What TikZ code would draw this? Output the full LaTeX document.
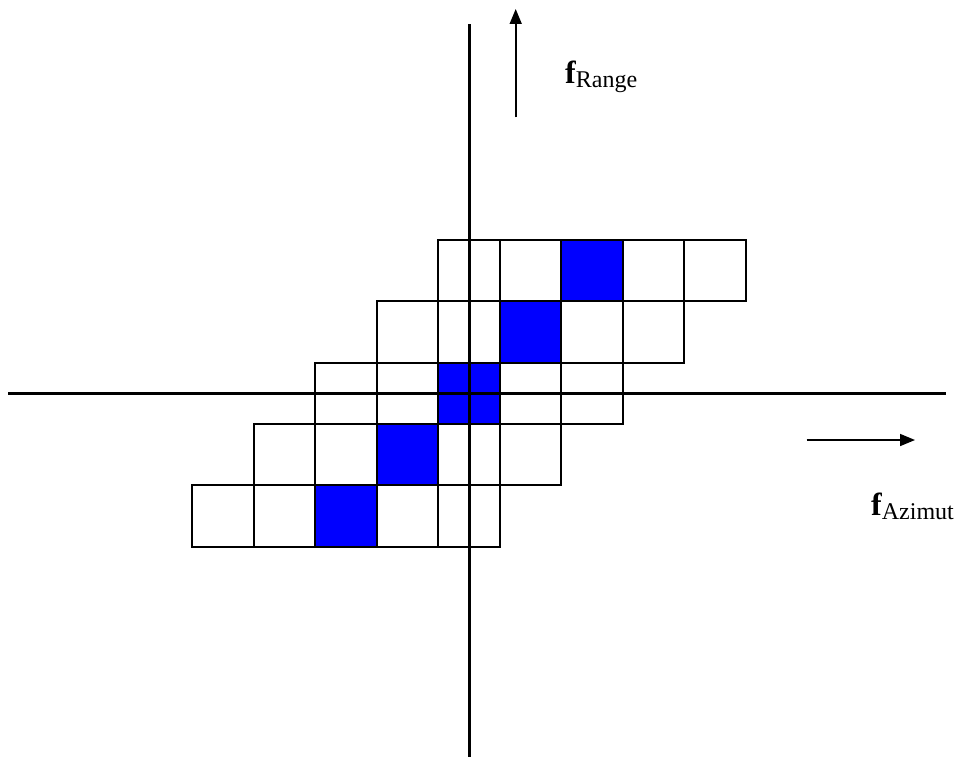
\documentclass[tikz,border=0pt]{standalone}
\usepackage{fontspec}
\setmainfont{Liberation Serif}
\usetikzlibrary{arrows.meta}
\definecolor{cellblue}{RGB}{0,0,255}
\tikzset{
  cellbox/.style={draw=black, line width=2pt},
  bluecell/.style={fill=cellblue, draw=black, line width=2pt},
  axisline/.style={draw=black, line width=2.4pt},
  dirarrow/.style={draw=black, line width=1.6pt, -{Triangle[length=15pt,width=12pt]}},
  lbl/.style={inner sep=0pt, anchor=base west}
}
\begin{document}
\begin{tikzpicture}[x=1pt,y=-1pt]
\useasboundingbox (0,0) rectangle (960,757);
% grid of cells: row r (0 = top), start column 4-r, five cells each
\foreach \r in {0,...,4}{
  \foreach \c in {0,...,4}{
    \pgfmathsetmacro{\xa}{192.3+61.5*(4-\r+\c)}
    \pgfmathsetmacro{\ya}{240+61.35*\r}
    \ifnum\c=2
      \path[bluecell] (\xa,\ya) rectangle ++(61.5,61.35);
    \else
      \path[cellbox] (\xa,\ya) rectangle ++(61.5,61.35);
    \fi
  }
}
% axes
\coordinate (vtop) at (469.3,24.3);
\coordinate (vbot) at (469.3,757);
\coordinate (hleft) at (8.3,393.3);
\coordinate (hright) at (945.7,393.3);
\draw[axisline] (vtop) -- (vbot);
\draw[axisline] (hleft) -- (hright);
% direction arrows
\coordinate (rs) at (515.7,117.5);
\coordinate (re) at (515.7,9);
\coordinate (as) at (806.7,440);
\coordinate (ae) at (915,440);
\draw[dirarrow] (rs) -- (re);
\draw[dirarrow] (as) -- (ae);
% labels
\node[lbl] (frange) at (565,83.3) {{\fontsize{32}{32}\selectfont\bfseries f}{\fontsize{24}{24}\selectfont\raisebox{-4.5pt}{Range}}};
\node[lbl] (fazimut) at (871,515) {{\fontsize{32}{32}\selectfont\bfseries f}{\fontsize{24}{24}\selectfont\raisebox{-4.5pt}{Azimut}}};
\end{tikzpicture}
\end{document}
